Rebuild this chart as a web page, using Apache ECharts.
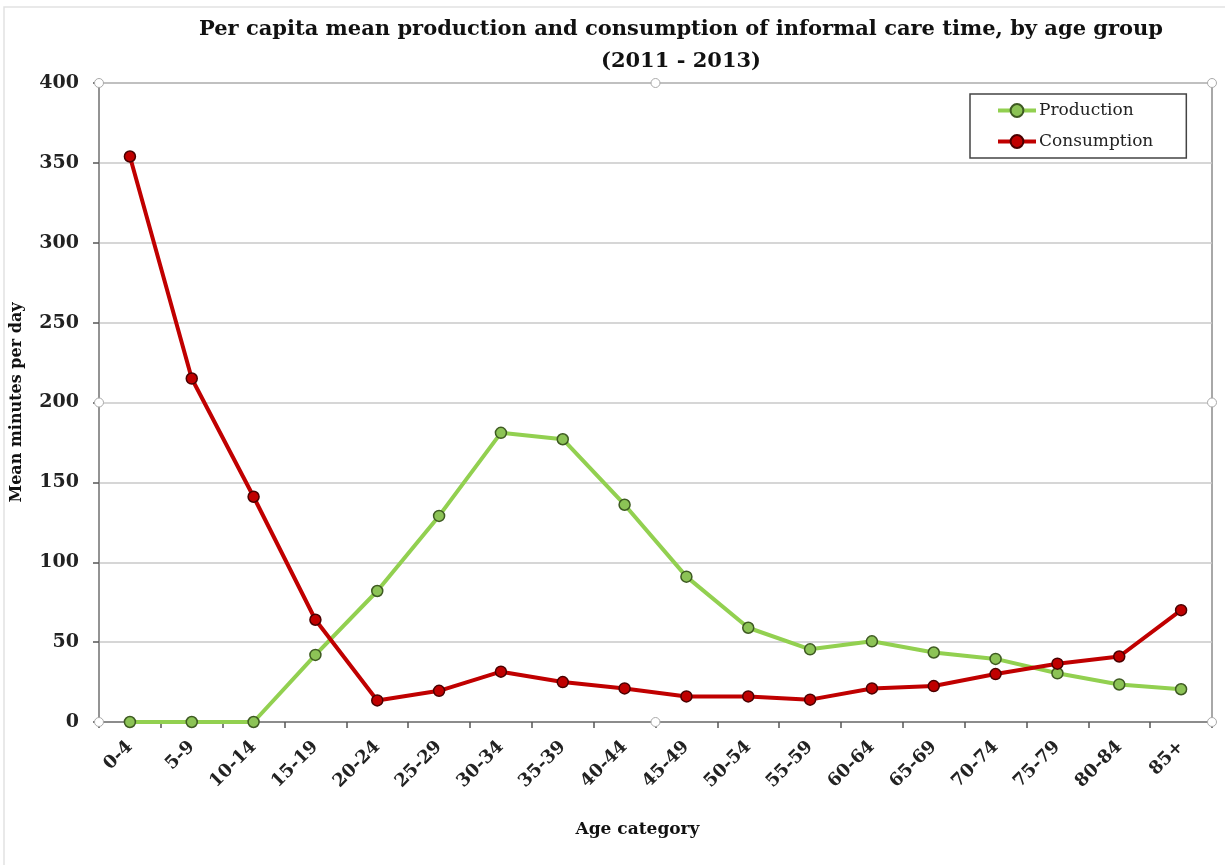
<!DOCTYPE html>
<html>
<head>
<meta charset="utf-8">
<script src="https://cdn.jsdelivr.net/npm/echarts@6/dist/echarts.min.js"></script>
<style>
html,body{margin:0;padding:0;background:#fff;}
#chart{width:1225px;height:865px;}
</style>
</head>
<body>
<div id="chart"></div>
<script>
const categories = ['0-4','5-9','10-14','15-19','20-24','25-29','30-34','35-39','40-44','45-49','50-54','55-59','60-64','65-69','70-74','75-79','80-84','85+'];
const production = [0, 0, 0, 42, 82, 129, 181, 177, 136, 91, 59, 45.5, 50.5, 43.5, 39.5, 30.5, 23.5, 20.5];
const consumption = [354, 215, 141, 64, 13.5, 19.5, 31.5, 25, 21, 16, 16, 14, 21, 22.5, 30, 36.5, 41, 70];
const yTicks = [0, 50, 100, 150, 200, 250, 300, 350, 400];

const serif = '"DejaVu Serif", "Liberation Serif", serif';
const W = 1225, H = 865;
const G = {left: 99, right: 13, top: 83, bottom: 143};
const gx0 = G.left, gx1 = W - G.right, gy0 = G.top, gy1 = H - G.bottom;
const gxm = (gx0 + gx1) / 2, gym = (gy0 + gy1) / 2;
function handle(x, y) {
  return {type: 'circle', shape: {cx: x, cy: y, r: 4.5}, style: {fill: '#fff', stroke: '#aaa', lineWidth: 1}, z: 100};
}

const chart = echarts.init(document.getElementById('chart'), null, {renderer: 'canvas'});
chart.setOption({
  backgroundColor: '#ffffff',
  animation: false,
  graphic: [
    {type: 'rect', shape: {x: 4, y: 7, width: W + 10, height: H + 10}, style: {fill: 'none', stroke: '#e2e2e2', lineWidth: 1.5}, z: -1},
    handle(gx0, gy0), handle(gxm, gy0), handle(gx1, gy0),
    handle(gx0, gy1), handle(gxm, gy1), handle(gx1, gy1),
    handle(gx0, gym), handle(gx1, gym)
  ],
  title: {
    text: 'Per capita mean production and consumption of informal care time, by age group\n(2011 - 2013)',
    left: 676,
    top: 9,
    textAlign: 'center',
    textStyle: {fontFamily: serif, fontWeight: 'bold', fontSize: 21, lineHeight: 32, color: '#111'}
  },
  legend: {
    orient: 'vertical',
    left: 970,
    top: 94,
    width: 216,
    padding: [8, 33, 8, 26],
    itemGap: 14,
    itemWidth: 38,
    itemHeight: 16,
    borderColor: '#444',
    borderWidth: 1.5,
    backgroundColor: '#fff',
    lineStyle: {width: 4},
    textStyle: {fontFamily: serif, fontSize: 17, color: '#222', padding: [0, 0, 0, -2]},
    data: ['Production', 'Consumption']
  },
  grid: {left: G.left, right: G.right, top: G.top, bottom: G.bottom, show: true, borderColor: '#8c8c8c', borderWidth: 1.5},
  xAxis: {
    type: 'category',
    data: categories,
    boundaryGap: true,
    name: 'Age category',
    nameLocation: 'middle',
    nameGap: 99,
    nameTextStyle: {fontFamily: serif, fontWeight: 'bold', fontSize: 17, color: '#111', padding: [0, 36, 0, 0]},
    axisLine: {lineStyle: {color: '#8c8c8c', width: 2}},
    axisTick: {show: true, length: 6, lineStyle: {color: '#555', width: 1.5}},
    axisLabel: {rotate: 45, margin: 22, fontFamily: serif, fontWeight: 'bold', fontSize: 18, color: '#222', interval: 0}
  },
  yAxis: {
    type: 'value',
    min: yTicks[0],
    max: yTicks[yTicks.length - 1],
    interval: 50,
    name: 'Mean minutes per day',
    nameLocation: 'middle',
    nameRotate: 90,
    nameGap: 74,
    nameTextStyle: {fontFamily: serif, fontWeight: 'bold', fontSize: 16, color: '#111'},
    axisLine: {show: true, lineStyle: {color: '#8c8c8c', width: 1.5}},
    axisTick: {show: true, length: 6, lineStyle: {color: '#555', width: 1.5}},
    axisLabel: {margin: 20, fontFamily: serif, fontWeight: 'bold', fontSize: 19, color: '#222'},
    splitLine: {lineStyle: {color: '#c8c8c8', width: 1.5}}
  },
  series: [
    {
      name: 'Production',
      type: 'line',
      data: production,
      symbol: 'circle',
      symbolSize: 11,
      lineStyle: {color: '#92D050', width: 4},
      itemStyle: {color: '#8CC356', borderColor: '#3E5A22', borderWidth: 1.5},
      z: 2
    },
    {
      name: 'Consumption',
      type: 'line',
      data: consumption,
      symbol: 'circle',
      symbolSize: 11,
      lineStyle: {color: '#C00000', width: 4},
      itemStyle: {color: '#C00000', borderColor: '#4A0000', borderWidth: 1.5},
      z: 3
    }
  ]
});
</script>
</body>
</html>
